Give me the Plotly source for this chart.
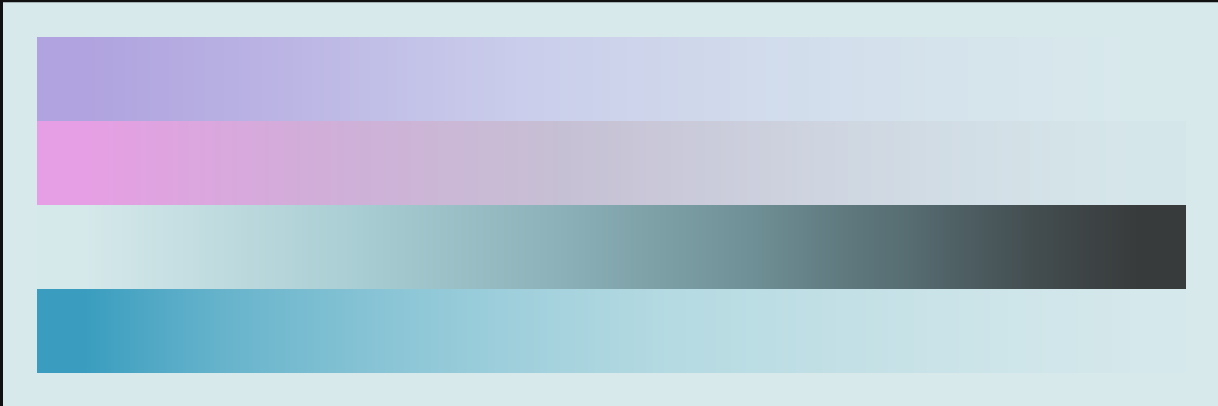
import plotly.graph_objects as go

# Data
rows = ["Row 1", "Row 2", "Row 3", "Row 4"]
columns = list(range(12))
row1_values = [1.0, 0.9, 0.8, 0.68, 0.56, 0.45, 0.35, 0.25, 0.17, 0.1, 0.05, 0.0]
row2_values = [1.0, 0.9, 0.8, 0.7, 0.6, 0.5, 0.4, 0.3, 0.2, 0.12, 0.05, 0.0]
row3_values = [0.0, 0.1, 0.2, 0.3, 0.4, 0.5, 0.6, 0.7, 0.8, 0.88, 0.95, 1.0]
row4_values = [1.0, 0.86, 0.74, 0.63, 0.53, 0.44, 0.36, 0.28, 0.2, 0.12, 0.06, 0.0]

BG = "#d7e9eb"

scales = [
    [[0, "#d8e9ec"], [0.5, "#cacdeb"], [1, "#b0a3df"]],
    [[0, "#d5e6ea"], [0.5, "#c6c0d4"], [0.75, "#d0aed8"], [1, "#e69fe4"]],
    [[0, "#d5e8ea"], [0.3, "#a6ccd2"], [0.5, "#8bb0b7"], [0.7, "#6e8f95"], [0.85, "#566c71"], [1, "#383b3c"]],
    [[0, "#d5e8eb"], [0.35, "#b5dae2"], [0.6, "#8cc6d6"], [0.8, "#68b4cc"], [1, "#3a9dbf"]],
]
values = [row1_values, row2_values, row3_values, row4_values]

fig = go.Figure()
for i, (name, vals, cs) in enumerate(zip(rows, values, scales)):
    fig.add_trace(go.Heatmap(
        x=columns, y=[i - 0.25, i + 0.25], z=[vals, vals],
        colorscale=cs, zmin=0, zmax=1, showscale=False,
        zsmooth="best", hoverinfo="skip", name=name,
    ))

W, H = 1218, 406
ml, mr, mt, mb = 37, 32, 37, 33
pw, ph = W - ml - mr, H - mt - mb

fig.update_layout(
    width=W, height=H,
    margin=dict(l=ml, r=mr, t=mt, b=mb),
    paper_bgcolor=BG, plot_bgcolor=BG,
    xaxis=dict(visible=False, showgrid=False, zeroline=False,
               range=[-0.5, len(columns) - 0.5]),
    yaxis=dict(visible=False, showgrid=False, zeroline=False,
               range=[len(rows) - 0.5, -0.5]),
    shapes=[
        dict(type="line", xref="paper", yref="paper",
             x0=(0 - ml) / pw, x1=(W + 5 - ml) / pw,
             y0=(H - mb - 1) / ph, y1=(H - mb - 1) / ph,
             line=dict(color="#111111", width=2.5)),
        dict(type="line", xref="paper", yref="paper",
             x0=(1.5 - ml) / pw, x1=(1.5 - ml) / pw,
             y0=(H - mb) / ph, y1=(0 - mb) / ph,
             line=dict(color="#111111", width=3)),
    ],
)

fig.write_html("out.html",
               config={"displayModeBar": False},
               post_script=("document.body.style.margin='0';"
                            "document.body.style.overflow='hidden';"
                            "document.body.style.background='" + BG + "';"
                            "document.documentElement.style.background='" + BG + "';"))
